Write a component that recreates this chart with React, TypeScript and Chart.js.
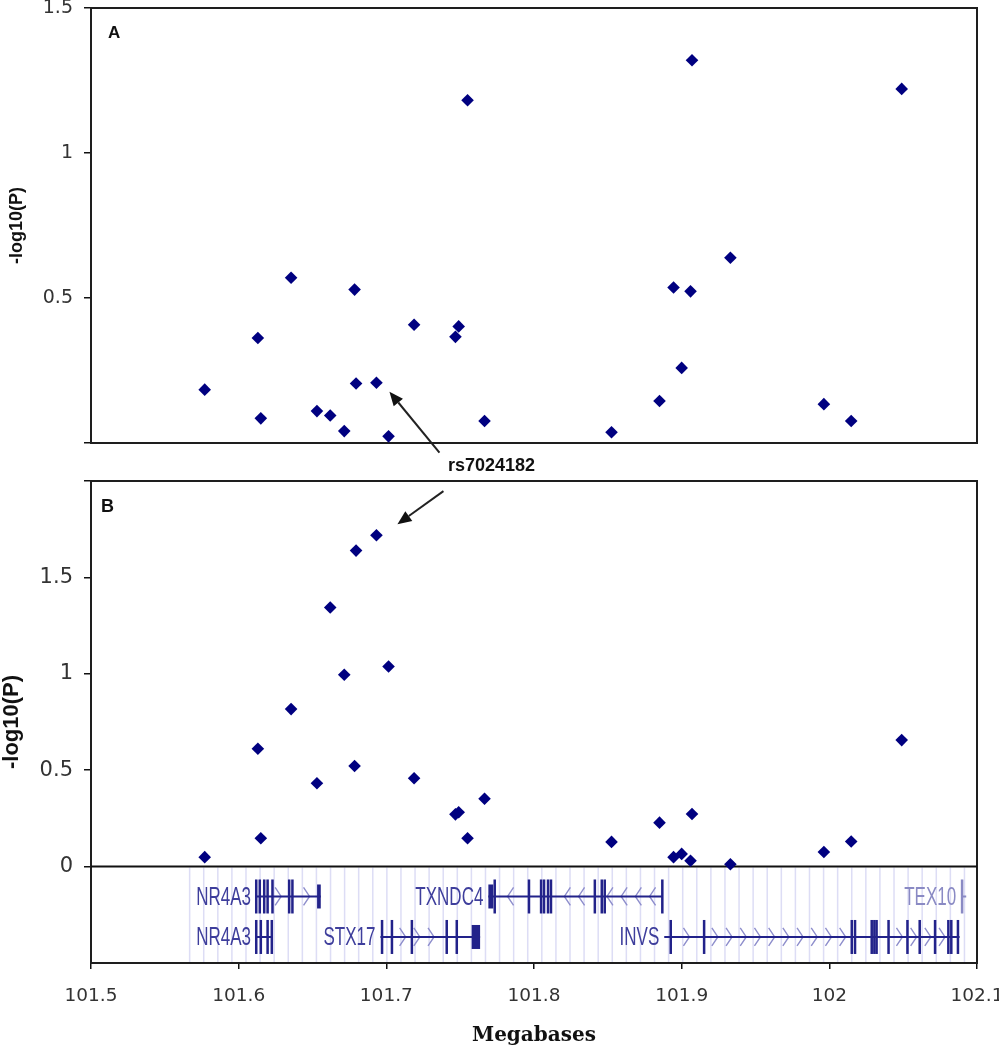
import React, { useEffect, useRef } from 'react';
import { Chart, registerables } from 'chart.js';

Chart.register(...registerables);

// ---------- DATA ----------
const snpPositions = [
  101.577, 101.613, 101.615, 101.6355, 101.653, 101.662, 101.6715, 101.6785, 101.6795,
  101.6933, 101.7015, 101.7188, 101.7468, 101.749, 101.755, 101.7665, 101.8525, 101.885,
  101.8945, 101.9, 101.906, 101.907, 101.933, 101.9963, 102.0148, 102.049,
];
const panelAValues = [
  0.184, 0.362, 0.085, 0.57, 0.11, 0.095, 0.041, 0.529, 0.205, 0.208, 0.023, 0.408, 0.366,
  0.402, 1.182, 0.076, 0.037, 0.145, 0.536, 0.259, 0.523, 1.32, 0.639, 0.134, 0.076, 1.221,
];
const panelBValues = [
  0.049, 0.611, 0.147, 0.817, 0.432, 1.344, 0.995, 0.522, 1.639, 1.719, 1.038, 0.458, 0.271,
  0.282, 0.147, 0.352, 0.128, 0.228, 0.049, 0.066, 0.03, 0.273, 0.012, 0.076, 0.13, 0.656,
];
const highlightIndex = 9;
const highlightLabel = 'rs7024182';

const xTickValues = [101.5, 101.6, 101.7, 101.8, 101.9, 102, 102.1];
const yTicksA = [0, 0.5, 1, 1.5];
const yTicksB = [0, 0.5, 1, 1.5, 2];

const geneNames = ['NR4A3', 'TXNDC4', 'TEX10', 'NR4A3', 'STX17', 'INVS'];
const geneRows = [0, 0, 0, 1, 1, 1];
const geneStrands = [1, -1, 1, 1, 1, 1];
const geneFaint = [false, false, true, false, false, false];
const geneStarts = [101.6117, 101.7691, 102.0893, 101.6117, 101.696, 101.8882];
const geneEnds = [101.6556, 101.8871, 102.0927, 101.6229, 101.7635, 102.0882];
const geneExons = [
  [[101.6117, 101.6121], [101.6141, 101.6145], [101.617, 101.6176], [101.6194, 101.6198],
   [101.6227, 101.6231], [101.634, 101.6344], [101.6362, 101.6366], [101.6531, 101.6556]],
  [[101.7691, 101.7724], [101.7732, 101.7736], [101.7964, 101.7968], [101.8046, 101.805],
   [101.8066, 101.807], [101.8093, 101.8097], [101.8113, 101.8117], [101.841, 101.8414],
   [101.8457, 101.8461], [101.8477, 101.8481], [101.8867, 101.8871]],
  [[102.0893, 102.0905]],
  [[101.6117, 101.6121], [101.6148, 101.6152], [101.6194, 101.6198], [101.622, 101.6229]],
  [[101.6969, 101.6973], [101.7036, 101.704], [101.7171, 101.7175], [101.7407, 101.7411],
   [101.7475, 101.7479], [101.7578, 101.7635]],
  [[101.8924, 101.8928], [101.915, 101.9154], [102.015, 102.0154], [102.0172, 102.0176],
   [102.0285, 102.0289], [102.0303, 102.0307], [102.0318, 102.0322], [102.0399, 102.0403],
   [102.0527, 102.0531], [102.061, 102.0614], [102.0714, 102.0718], [102.0804, 102.0808],
   [102.0824, 102.0828], [102.0869, 102.0873]],
];
const trackGridStart = 101.5668;
const trackGridStep = 0.00954;
const trackGridEnd = 102.093;

// ---------- STYLE ----------
const NAVY = '#000080';
const SANS = '"Liberation Sans", Arial, sans-serif';

function drawArrow(ctx: CanvasRenderingContext2D, x1: number, y1: number, x2: number, y2: number) {
  const ang = Math.atan2(y2 - y1, x2 - x1);
  const headLen = 14;
  const headW = 6;
  const bx = x2 - headLen * Math.cos(ang);
  const by = y2 - headLen * Math.sin(ang);
  ctx.save();
  ctx.strokeStyle = '#222';
  ctx.fillStyle = '#111';
  ctx.lineWidth = 2;
  ctx.beginPath();
  ctx.moveTo(x1, y1);
  ctx.lineTo(bx, by);
  ctx.stroke();
  ctx.beginPath();
  ctx.moveTo(x2, y2);
  ctx.lineTo(bx + headW * Math.sin(ang), by - headW * Math.cos(ang));
  ctx.lineTo(bx - headW * Math.sin(ang), by + headW * Math.cos(ang));
  ctx.closePath();
  ctx.fill();
  ctx.restore();
}

function drawFrame(chart: any) {
  const { ctx, chartArea: a } = chart;
  ctx.save();
  ctx.strokeStyle = '#1e1e1e';
  ctx.lineWidth = 2;
  ctx.strokeRect(a.left, a.top, a.right - a.left, a.bottom - a.top);
  ctx.restore();
}

function drawPanelLetter(chart: any, letter: string, dx: number, dy: number, size: number) {
  const { ctx, chartArea: a } = chart;
  ctx.save();
  ctx.font = `bold ${size}px ${SANS}`;
  ctx.fillStyle = '#111';
  ctx.textAlign = 'left';
  ctx.textBaseline = 'middle';
  ctx.fillText(letter, a.left + dx, a.top + dy);
  ctx.restore();
}

function drawGeneTrack(chart: any) {
  const { ctx, chartArea: a } = chart;
  const xs = chart.scales.x;
  const ys = chart.scales.y;
  const top = ys.getPixelForValue(0);
  const bottom = a.bottom;
  const h = bottom - top;
  const rowY = [top + h * 0.31, top + h * 0.73];
  ctx.save();
  ctx.beginPath();
  ctx.rect(a.left, top + 1, a.right - a.left, h - 1);
  ctx.clip();
  // faint grid lines of the browser image
  ctx.strokeStyle = 'rgba(120,120,215,0.25)';
  ctx.lineWidth = 1.5;
  for (let v = trackGridStart; v <= trackGridEnd; v += trackGridStep) {
    const x = xs.getPixelForValue(v);
    ctx.beginPath();
    ctx.moveTo(x, top);
    ctx.lineTo(x, bottom);
    ctx.stroke();
  }
  geneNames.forEach((name, i) => {
    const y = rowY[geneRows[i]];
    const faint = geneFaint[i];
    const col = faint ? '#8a8ac4' : '#22228a';
    const x1 = xs.getPixelForValue(geneStarts[i]);
    const x2 = xs.getPixelForValue(geneEnds[i]);
    const ex = geneExons[i].map(([s, e]) => [xs.getPixelForValue(s), xs.getPixelForValue(e)]);
    // chevrons
    ctx.strokeStyle = faint ? '#bcbce0' : '#8e8ecc';
    ctx.lineWidth = 1.4;
    const dir = geneStrands[i];
    for (let cx = x1 + 8; cx < x2 - 4; cx += 14.2) {
      if (ex.some(([s, e]) => cx > s - 4 && cx < e + 4)) continue;
      ctx.beginPath();
      ctx.moveTo(cx - 3 * dir, y - 9);
      ctx.lineTo(cx + 3 * dir, y);
      ctx.lineTo(cx - 3 * dir, y + 9);
      ctx.stroke();
    }
    // intron line
    ctx.strokeStyle = col;
    ctx.lineWidth = 2;
    ctx.beginPath();
    ctx.moveTo(x1, y);
    ctx.lineTo(x2, y);
    ctx.stroke();
    // exons
    ctx.fillStyle = col;
    ex.forEach(([s, e]) => {
      const w = e - s;
      if (w > 3) ctx.fillRect(s, y - 12, w, 24);
      else ctx.fillRect((s + e) / 2 - 1.25, y - 17, 2.5, 34);
    });
    // label
    ctx.fillStyle = faint ? '#8a8ac4' : '#3e3e9c';
    ctx.font = `17px ${SANS}`;
    ctx.textAlign = 'right';
    ctx.textBaseline = 'middle';
    ctx.save();
    ctx.translate(x1 - 5, y + 1);
    ctx.scale(1, 1.5);
    ctx.fillText(name, 0, 0);
    ctx.restore();
  });
  ctx.restore();
}

function pointPixel(chart: any, values: number[]) {
  return {
    x: chart.scales.x.getPixelForValue(snpPositions[highlightIndex]),
    y: chart.scales.y.getPixelForValue(values[highlightIndex]),
  };
}

const panelAPlugin = {
  id: 'panelA',
  beforeDatasetsDraw(chart: any) {
    drawFrame(chart);
  },
  afterDraw(chart: any) {
    drawPanelLetter(chart, 'A', 17, 25, 17);
    const p = pointPixel(chart, panelAValues);
    const tipX = p.x + 13;
    const tipY = p.y + 9;
    drawArrow(chart.ctx, tipX + 50, tipY + 61, tipX, tipY);
  },
};

const panelBPlugin = {
  id: 'panelB',
  beforeDatasetsDraw(chart: any) {
    drawGeneTrack(chart);
    drawFrame(chart);
    const { ctx, chartArea: a } = chart;
    const y0 = chart.scales.y.getPixelForValue(0);
    ctx.save();
    ctx.strokeStyle = '#111';
    ctx.lineWidth = 2;
    ctx.beginPath();
    ctx.moveTo(a.left, y0);
    ctx.lineTo(a.right, y0);
    ctx.stroke();
    ctx.restore();
  },
  afterDraw(chart: any) {
    drawPanelLetter(chart, 'B', 10, 26, 18);
    const p = pointPixel(chart, panelBValues);
    const tipX = p.x + 21;
    const tipY = p.y - 11;
    const tailX = tipX + 46;
    const tailY = tipY - 33;
    drawArrow(chart.ctx, tailX, tailY, tipX, tipY);
    const { ctx } = chart;
    ctx.save();
    ctx.font = `bold 18px ${SANS}`;
    ctx.fillStyle = '#111';
    ctx.textAlign = 'center';
    ctx.textBaseline = 'middle';
    ctx.fillText(highlightLabel, tailX + 48, tailY - 25);
    ctx.restore();
  },
};

function makeDataset(values: number[]) {
  return {
    data: snpPositions.map((x, i) => ({ x, y: values[i] })),
    pointStyle: 'rectRot' as const,
    pointRadius: 6.3,
    pointHoverRadius: 6.3,
    backgroundColor: NAVY,
    borderColor: NAVY,
    borderWidth: 0,
    showLine: false,
    clip: false as const,
  };
}

function yAxis(ticks: number[], hidden: number, tickSize: number, titleSize: number, titlePad: number) {
  return {
    type: 'linear' as const,
    afterBuildTicks: (s: any) => {
      s.ticks = ticks.map((v) => ({ value: v }));
    },
    afterFit: (s: any) => {
      s.width = 91;
      s.paddingTop = 0;
      s.paddingBottom = 0;
    },
    grid: { drawOnChartArea: false, drawTicks: true, tickLength: 7, color: '#111', lineWidth: 1.5 },
    border: { display: false },
    ticks: {
      font: { family: 'DejaVu Sans', size: tickSize },
      color: '#333',
      padding: 11,
      callback: (v: any) => (v === hidden ? '' : String(v)),
    },
    title: {
      display: true,
      text: '-log10(P)',
      color: '#111',
      font: { family: 'Liberation Sans', size: titleSize, weight: 'bold' as const, lineHeight: 1 },
      padding: { top: titlePad, bottom: 0 },
    },
  };
}

export default function App() {
  const refA = useRef<HTMLCanvasElement>(null);
  const refB = useRef<HTMLCanvasElement>(null);

  useEffect(() => {
    if (!refA.current || !refB.current) return;
    const chartA = new Chart(refA.current, {
      type: 'scatter',
      data: { datasets: [makeDataset(panelAValues)] },
      options: {
        animation: false,
        responsive: false,
        events: [],
        layout: { padding: { left: 0, top: 8, right: 22, bottom: 607 } },
        plugins: { legend: { display: false }, tooltip: { enabled: false } },
        scales: {
          x: { type: 'linear', display: false, min: 101.5, max: 102.1 },
          y: { ...yAxis(yTicksA, 0, 19, 18, 8.5), min: 0, max: 1.5 },
        },
      },
      plugins: [panelAPlugin],
    } as any);

    const chartB = new Chart(refB.current, {
      type: 'scatter',
      data: { datasets: [makeDataset(panelBValues)] },
      options: {
        animation: false,
        responsive: false,
        events: [],
        layout: { padding: { left: 0, top: 481, right: 22, bottom: 0 } },
        plugins: { legend: { display: false }, tooltip: { enabled: false } },
        scales: {
          x: {
            type: 'linear',
            min: 101.5,
            max: 102.1,
            afterBuildTicks: (s: any) => {
              s.ticks = xTickValues.map((v) => ({ value: v }));
            },
            afterFit: (s: any) => {
              s.height = 87;
              s.paddingLeft = 0;
              s.paddingRight = 0;
            },
            grid: { drawOnChartArea: false, drawTicks: true, tickLength: 6, color: '#111', lineWidth: 1.5 },
            border: { display: false },
            ticks: {
              font: { family: 'DejaVu Sans', size: 18.5 },
              color: '#333',
              padding: 16,
              maxRotation: 0,
              autoSkip: false,
              callback: (v: any) => String(v),
            },
            title: {
              display: true,
              text: 'Megabases',
              color: '#111',
              font: { family: 'DejaVu Serif', size: 20, weight: 'bold', lineHeight: 1 },
              padding: { top: 0, bottom: 4 },
            },
          },
          y: { ...yAxis(yTicksB, 2, 21, 22, 1), min: -0.5, max: 2 },
        },
      },
      plugins: [panelBPlugin],
    } as any);

    return () => {
      chartA.destroy();
      chartB.destroy();
    };
  }, []);

  const canvasStyle: React.CSSProperties = { position: 'absolute', left: 0, top: 0, display: 'block' };
  return (
    <div style={{ position: 'absolute', left: 0, top: 0, width: 999, height: 1050, background: '#fff' }}>
      <canvas ref={refA} width={999} height={1050} style={canvasStyle} />
      <canvas ref={refB} width={999} height={1050} style={canvasStyle} />
    </div>
  );
}
